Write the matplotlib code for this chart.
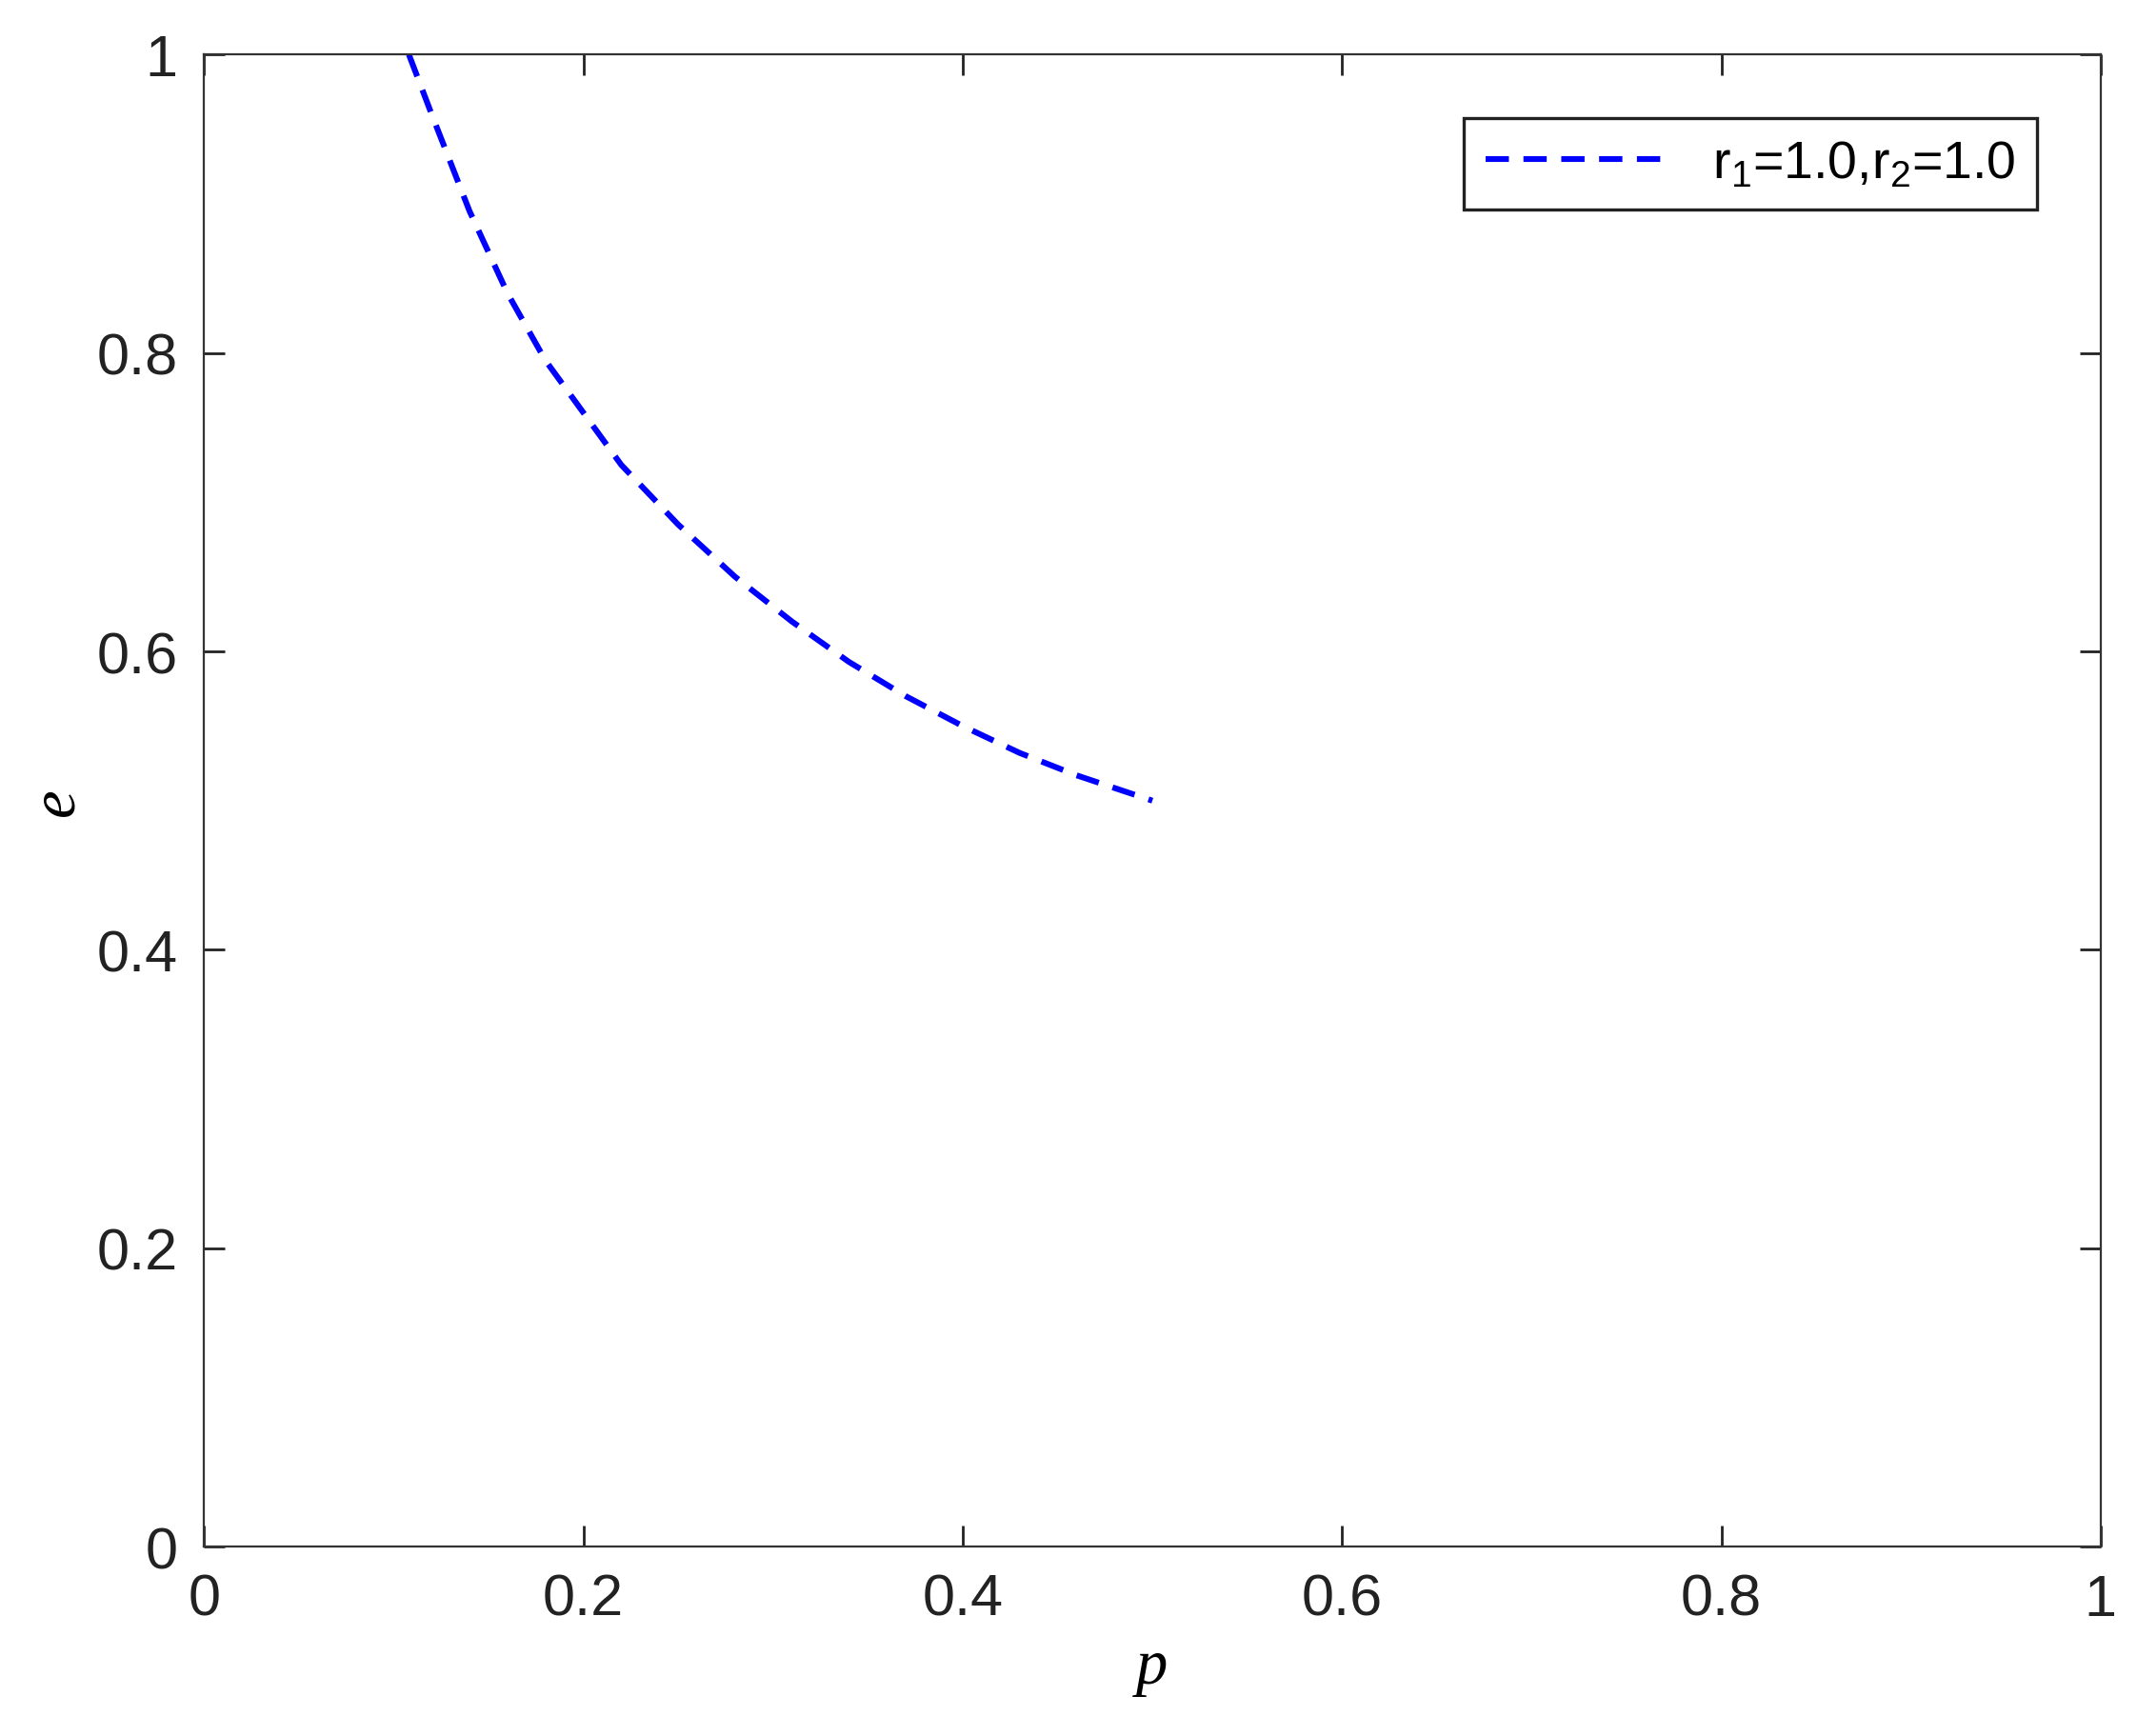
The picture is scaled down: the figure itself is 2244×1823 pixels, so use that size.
import matplotlib
matplotlib.use("Agg")
import matplotlib.pyplot as plt
from matplotlib.ticker import FixedLocator, FixedFormatter

plt.rcParams['font.family'] = ['Liberation Sans', 'DejaVu Sans']
plt.rcParams['mathtext.fontset'] = 'custom'
plt.rcParams['mathtext.rm'] = 'Liberation Sans'

# values
p_vals = [0.108, 0.12, 0.14, 0.16, 0.18, 0.20, 0.22, 0.25, 0.28, 0.31, 0.34, 0.37, 0.40, 0.43, 0.46, 0.50]
e_vals = [1.000, 0.960, 0.895, 0.840, 0.795, 0.760, 0.725, 0.685, 0.650, 0.620, 0.593, 0.570, 0.550, 0.532, 0.517, 0.500]
ticks = [0, 0.2, 0.4, 0.6, 0.8, 1]
tick_labels = ['0', '0.2', '0.4', '0.6', '0.8', '1']

fig = plt.figure(figsize=(11.22, 9.12), dpi=200)
ax = fig.add_axes([0.0955, 0.109, 0.8875, 0.859])
ax.plot(p_vals, e_vals, color='blue', linestyle=(0, (4, 2.5)), linewidth=2.2,
        label=r'r$_1$=1.0,r$_2$=1.0')
ax.set_xlim(0, 1)
ax.set_ylim(0, 1)
for axis in (ax.xaxis, ax.yaxis):
    axis.set_major_locator(FixedLocator(ticks))
    axis.set_major_formatter(FixedFormatter(tick_labels))
ax.tick_params(direction='in', top=True, right=True, length=8, width=1,
               labelsize=22, colors='#222222', pad=10)
for s in ax.spines.values():
    s.set_color('#333333')
ax.set_xlabel('p', fontsize=24, family='Liberation Serif', style='italic')
ax.set_ylabel('e', fontsize=24, family='Liberation Serif', style='italic')
leg = ax.legend(loc='upper right', fontsize=20, fancybox=False, framealpha=1,
                edgecolor='#222222', handlelength=3.5, borderpad=0.4,
                borderaxespad=1.2)
leg.get_frame().set_linewidth(1.2)
fig.savefig('out.png', dpi=200)
